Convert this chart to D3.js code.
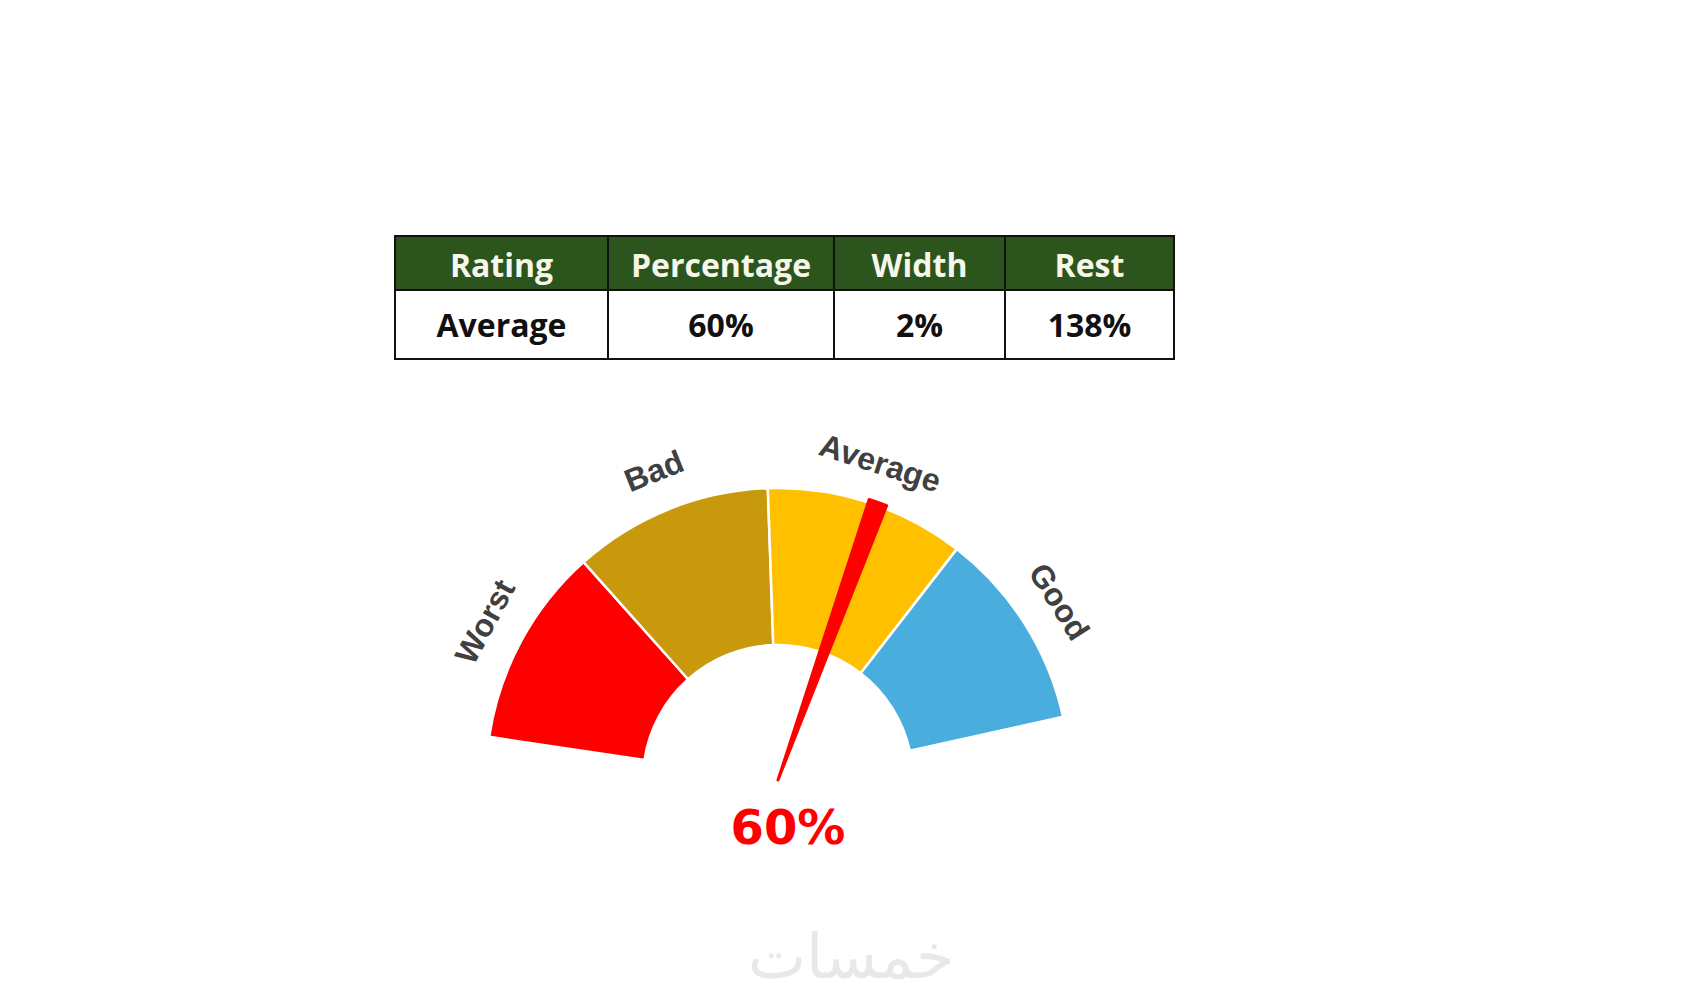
<!DOCTYPE html>
<html>
<head>
<meta charset="utf-8">
<script src="https://cdn.jsdelivr.net/npm/d3@7"></script>
<style>
    body { margin: 0; background: #ffffff; }
</style>
</head>
<body>
<div id="canvas"></div>
<script>
"use strict"

// table shown above the gauge
let tableHeaders = ["Rating", "Percentage", "Width", "Rest"]
let tableValues = ["Average", "60%", "2%", "138%"]

// gauge bands (equal share each)
let ratings = ["Worst", "Bad", "Average", "Good"]
let ratingBands = [1, 1, 1, 1]
let ratingColors = ["#ff0000", "#c9990d", "#ffc000", "#49aede"]

// needle pie: value, needle width, rest (of 200)
let needleParts = ["Percentage", "Width", "Rest"]
let needleValues = [60, 2, 138]
let valueLabel = "60%"

let watermark = "خمسات"

let svgWidth = 1700
let svgHeight = 1000
let deg = Math.PI / 180

let svg = d3.select("#canvas")
    .append("svg")
    .attr("width", svgWidth)
    .attr("height", svgHeight)

svg.append("rect")
    .attr("width", svgWidth)
    .attr("height", svgHeight)
    .attr("fill", "#ffffff")

drawTable(svg)
drawGauge(svg)

svg.append("text")
    .attr("x", 851)
    .attr("y", 956)
    .attr("text-anchor", "middle")
    .attr("dominant-baseline", "central")
    .style("font-family", "DejaVu Sans")
    .style("font-size", "62px")
    .style("fill", "#e8e8e8")
    .text(watermark)

function drawTable(drawing) {
    let table = {left: 395, top: 236, headH: 54, rowH: 69}
    let colX = d3.scaleOrdinal()
        .domain(tableHeaders)
        .range([395, 608, 834, 1005])
    let colW = d3.scaleOrdinal()
        .domain(tableHeaders)
        .range([213, 226, 171, 169])

    let g = drawing.append("g")

    g.selectAll("rect.head")
        .data(tableHeaders)
        .join("rect")
        .classed("head", true)
        .attr("x", d => colX(d))
        .attr("y", table.top)
        .attr("width", d => colW(d))
        .attr("height", table.headH)
        .attr("fill", "#2b551c")
        .attr("stroke", "#111")
        .attr("stroke-width", 2)

    g.selectAll("rect.cell")
        .data(tableHeaders)
        .join("rect")
        .classed("cell", true)
        .attr("x", d => colX(d))
        .attr("y", table.top + table.headH)
        .attr("width", d => colW(d))
        .attr("height", table.rowH)
        .attr("fill", "#ffffff")
        .attr("stroke", "#111")
        .attr("stroke-width", 2)

    g.selectAll("text.head")
        .data(tableHeaders)
        .join("text")
        .classed("head", true)
        .attr("x", d => colX(d) + colW(d) / 2)
        .attr("y", table.top + table.headH / 2 + 1)
        .attr("text-anchor", "middle")
        .attr("dominant-baseline", "central")
        .style("font-family", "Open Sans")
        .style("font-weight", "bold")
        .style("font-size", "32px")
        .style("fill", "#f6f6ea")
        .text(d => d)

    g.selectAll("text.cell")
        .data(tableValues)
        .join("text")
        .classed("cell", true)
        .attr("x", (d, i) => colX(tableHeaders[i]) + colW(tableHeaders[i]) / 2)
        .attr("y", table.top + table.headH + table.rowH / 2)
        .attr("text-anchor", "middle")
        .attr("dominant-baseline", "central")
        .style("font-family", "Open Sans")
        .style("font-weight", "bold")
        .style("font-size", "32px")
        .style("fill", "#111")
        .text(d => d)
}

function drawGauge(drawing) {
    let cx = 778
    let cy = 780
    let innerR = 135
    let outerR = 292

    let gauge = drawing.append("g")
        .attr("transform", `translate(${cx},${cy})`)

    let bandPie = d3.pie()
        .sort(null)
        .startAngle(-81.5 * deg)
        .endAngle(77.5 * deg)

    let bandArc = d3.arc()
        .innerRadius(innerR)
        .outerRadius(outerR)

    let bands = bandPie(ratingBands)

    gauge.selectAll("path.band")
        .data(bands)
        .join("path")
        .classed("band", true)
        .attr("d", bandArc)
        .attr("fill", (d, i) => ratingColors[i])
        .attr("stroke", "#ffffff")
        .attr("stroke-width", 2.5)

    gauge.selectAll("text.band")
        .data(bands)
        .join("text")
        .classed("band", true)
        .attr("transform", function (d) {
            let a = (d.startAngle + d.endAngle) / 2
            let r = 333
            return `translate(${Math.sin(a) * r},${-Math.cos(a) * r}) rotate(${a / deg})`
        })
        .attr("text-anchor", "middle")
        .attr("dominant-baseline", "central")
        .style("font-family", "Liberation Sans")
        .style("font-weight", "bold")
        .style("font-size", "32px")
        .style("fill", "#404040")
        .text((d, i) => ratings[i])

    let needlePie = d3.pie()
        .sort(null)
        .startAngle(-90 * deg)
        .endAngle(270 * deg)

    let needleArc = d3.arc()
        .innerRadius(0)
        .outerRadius(295)

    gauge.selectAll("path.needle")
        .data(needlePie(needleValues))
        .join("path")
        .classed("needle", true)
        .attr("d", needleArc)
        .attr("fill", (d, i) => needleParts[i] == "Width" ? "#ff0000" : "none")
        .attr("stroke", (d, i) => needleParts[i] == "Width" ? "#ff0000" : "none")
        .attr("stroke-width", 3)
        .attr("stroke-linejoin", "round")

    gauge.append("text")
        .attr("x", 10)
        .attr("y", 47)
        .attr("text-anchor", "middle")
        .attr("dominant-baseline", "central")
        .style("font-family", "DejaVu Sans")
        .style("font-weight", "bold")
        .style("font-size", "48px")
        .style("fill", "#ff0000")
        .text(valueLabel)
}
</script>
</body>
</html>
